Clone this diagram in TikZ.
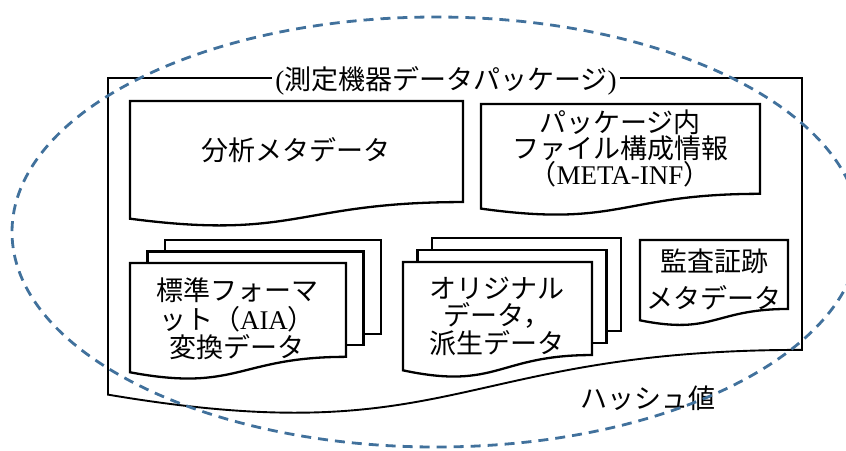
\documentclass[tikz,border=0pt]{standalone}
\usepackage{fontspec}
\setmainfont{Liberation Serif}
\newfontfamily\jpfont{Noto Sans CJK JP}
\definecolor{hashblue}{RGB}{65,113,156}

% document with wavy bottom: [style] name, x, y, width, height
\newcommand{\docshape}[6][docline]{%
  \draw[#1] (#3,#4) -- (#3+#5,#4) -- (#3+#5,#4+0.802*#6)
    .. controls (#3+0.5*#5,#4+0.802*#6) and (#3+0.5*#5,#4+1.1075*#6) .. (#3,#4+0.934*#6) -- cycle;
  \coordinate (#1) at (#3+0.5*#5,#4+0.5*#6);
}
% stack of three pages: name, x, y, width, height, dx, dy (up)
\newcommand{\docstack}[7]{%
  \foreach \k in {2,1}
    \draw[docline] (#2+\k*#6,#3-\k*#7) rectangle ++(#4,0.802*#5);
  \docshape{#1}{#2}{#3}{#4}{#5}
}

\begin{document}
\begin{tikzpicture}[x=1pt,y=-1pt,
  docline/.style={draw,line width=2.3pt,fill=white},
  outerline/.style={draw,line width=1.9pt},
  hashring/.style={draw=hashblue,line width=2.8pt,dash pattern=on 10pt off 7pt},
  txt/.style={font=\fontsize{27}{28}\selectfont\jpfont,align=center,inner sep=0pt}]
  \useasboundingbox (0,0) rectangle (846,450);

  \docshape[outerline]{pkg}{108}{78}{694}{339}
  \docshape{meta}{130}{101}{333}{126}
  \docshape{inf}{481}{104}{279}{112}
  \docshape{audit}{640}{240}{148}{86}
  \docstack{aia}{130}{263}{216}{117}{17.5}{11.5}
  \docstack{orig}{403}{262}{189}{116}{14.5}{12}

  \node[txt,fill=white,inner xsep=3pt] (title) at (446,81) {{\rmfamily(}測定機器データパッケージ{\rmfamily)}};
  \node[txt] (metatxt) at (296,150) {分析メタデータ};
  \node[txt,font=\fontsize{27}{26}\selectfont\jpfont] (inftxt) at (620,148)
    {パッケージ内\\ファイル構成情報\\（{\rmfamily META-INF}）};
  \node[txt,font=\fontsize{27}{28.5}\selectfont\jpfont] (aiatxt) at (237,319)
    {標準フォーマ\\ット（{\rmfamily AIA}）\\変換データ};
  \node[txt,font=\fontsize{27}{27.5}\selectfont\jpfont] (origtxt) at (497,316)
    {オリジナル\\データ，\\派生データ};
  \node[txt,font=\fontsize{27}{37}\selectfont\jpfont] (audittxt) at (714,279)
    {監査証跡\\メタデータ};
  \node[txt] (hash) at (648,398) {ハッシュ値};

  \draw[hashring] (436,232) ellipse [x radius=424pt, y radius=215pt];
\end{tikzpicture}
\end{document}
